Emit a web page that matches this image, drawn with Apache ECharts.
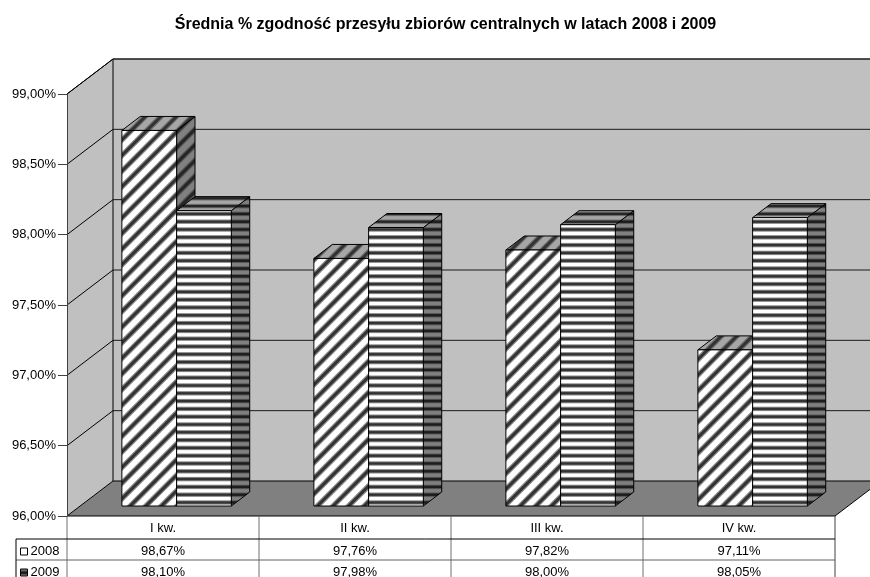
<!DOCTYPE html>
<html><head><meta charset="utf-8">
<style>html,body{margin:0;padding:0;background:#fff;overflow:hidden}#c{width:870px;height:577px}</style>
<script src="https://cdn.jsdelivr.net/npm/echarts@6/dist/echarts.min.js"></script>
</head><body><div id="c"></div>
<script>
const chartTitle = 'Średnia % zgodność przesyłu zbiorów centralnych w latach 2008 i 2009';
const categories = ['I kw.', 'II kw.', 'III kw.', 'IV kw.'];
const seriesNames = ['2008', '2009'];
const values2008 = [98.67, 97.76, 97.82, 97.11];
const values2009 = [98.10, 97.98, 98.00, 98.05];
const valueTicks = [96, 96.5, 97, 97.5, 98, 98.5, 99];

const FONT = '"Liberation Sans", Arial, sans-serif';
const WALL_DX = 46, WALL_DY = -35;
const BAR_D0 = 0.285, BAR_D1 = 0.685, BAR_FRACTION = 0.285, BAR_NUDGE = 0.5;
const fmt = v => v.toFixed(2).replace('.', ',') + '%';

function diagPattern(light, mid, dark) {
  const s = 78, p = 15.6, ph = 12.2, cv = document.createElement('canvas');
  cv.width = s; cv.height = s;
  const g = cv.getContext('2d');
  g.fillStyle = light; g.fillRect(0, 0, s, s);
  [[mid, 5.4], [dark, 3]].forEach(([col, lw]) => {
    g.strokeStyle = col; g.lineWidth = lw;
    for (let k = -8; k <= 18; k++) {
      const c = k * p + ph;
      g.beginPath(); g.moveTo(c + 20, -20); g.lineTo(c - s - 20, s + 20); g.stroke();
    }
  });
  return { image: cv, repeat: 'repeat' };
}
function horizPattern(light, mid, dark) {
  const h = 39, p = 7.8, cv = document.createElement('canvas');
  cv.width = 4; cv.height = h;
  const g = cv.getContext('2d');
  g.fillStyle = light; g.fillRect(0, 0, 4, h);
  for (let k = 0; k < 5; k++) {
    g.fillStyle = mid; g.fillRect(0, k * p + 1.1, 4, 4.4);
    g.fillStyle = dark; g.fillRect(0, k * p + 2.1, 4, 2.4);
  }
  return { image: cv, repeat: 'repeat' };
}
const patterns = [
  { front: diagPattern('#ffffff', '#8c8c8c', '#333333'), side: diagPattern('#808080', '#555555', '#262626'), top: diagPattern('#a6a6a6', '#6e6e6e', '#333333') },
  { front: horizPattern('#ffffff', '#8c8c8c', '#333333'), side: horizPattern('#808080', '#555555', '#1c1c1c'), top: horizPattern('#a6a6a6', '#707070', '#262626') }
];

function poly(points, fill, stroke, lw) {
  return { type: 'polygon', shape: { points }, style: { fill, stroke: stroke || 'none', lineWidth: lw || 1 } };
}
function line(a, b, stroke, lw) {
  return { type: 'line', shape: { x1: a[0], y1: a[1], x2: b[0], y2: b[1] }, style: { stroke, lineWidth: lw || 1, fill: 'none' } };
}
const back = (p, d) => [p[0] + WALL_DX * (d === undefined ? 1 : d), p[1] + WALL_DY * (d === undefined ? 1 : d)];

function renderWalls(params, api) {
  const cs = params.coordSys;
  const yb = api.coord([0, valueTicks[0]])[1], yt = api.coord([0, valueTicks[valueTicks.length - 1]])[1];
  const L = cs.x, R = cs.x + cs.width;
  const fl = [L, yb], fr = [R, yb], tl = [L, yt];
  const children = [
    poly([tl, back(tl), back(fl), fl], '#c0c0c0'),
    poly([back(tl), back([R, yt]), back(fr), back(fl)], '#c0c0c0'),
    poly([fl, fr, back(fr), back(fl)], '#808080', '#000', 1),
    line(back(tl), back(fl), '#000', 1),
    line(back(tl), back([R, yt]), '#1a1a1a', 1.2),
    line(tl, back(tl), '#000', 1)
  ];
  return { type: 'group', children };
}
function renderGrid(params, api) {
  const cs = params.coordSys;
  const y = api.coord([0, api.value(0)])[1];
  const a = [cs.x, y], b = back(a);
  return { type: 'group', children: [line(a, b, '#000', 1), line(b, [cs.x + cs.width + WALL_DX, b[1]], '#1a1a1a', 1)] };
}
function barRenderer(idx) {
  return function (params, api) {
    const c = api.value(0), v = api.value(1);
    const w = api.size([1, 0])[0] * BAR_FRACTION;
    const topP = api.coord([c, v]), botP = api.coord([c, valueTicks[0]]);
    const x0 = topP[0] - w + idx * w + BAR_NUDGE, x1 = x0 + w;
    const ft0 = back([x0, topP[1]], BAR_D0), ft1 = back([x1, topP[1]], BAR_D0);
    const fb0 = back([x0, botP[1]], BAR_D0), fb1 = back([x1, botP[1]], BAR_D0);
    const bt0 = back([x0, topP[1]], BAR_D1), bt1 = back([x1, topP[1]], BAR_D1);
    const bb1 = back([x1, botP[1]], BAR_D1);
    const pat = patterns[idx];
    return { type: 'group', children: [
      poly([ft1, bt1, bb1, fb1], pat.side, '#000', 1),
      poly([ft0, ft1, bt1, bt0], pat.top, '#000', 1),
      poly([ft0, ft1, fb1, fb0], pat.front, '#000', 1)
    ] };
  };
}
const ROW_Y = [0, 23, 44, 65];
function tableText(text, x, y) {
  return { type: 'text', style: { text, x, y, textAlign: 'center', textVerticalAlign: 'middle', font: '13px ' + FONT, fill: '#000' } };
}
function renderTable(params, api) {
  const cs = params.coordSys;
  const y0 = cs.y + cs.height, L = cs.x, R = cs.x + cs.width, K = 16;
  const children = [];
  categories.concat(['']).forEach((_, i) => {
    const x = L + cs.width * i / categories.length;
    children.push(line([x, y0], [x, y0 + ROW_Y[3]], i === categories.length ? '#404040' : '#707070', 1));
  });
  children.push(line([K, y0 + ROW_Y[1]], [R, y0 + ROW_Y[1]], '#000', 1));
  children.push(line([K, y0 + ROW_Y[2]], [R, y0 + ROW_Y[2]], '#606060', 1));
  children.push(line([K, y0 + ROW_Y[1]], [K, y0 + ROW_Y[3]], '#000', 1));
  seriesNames.forEach((name, s) => {
    const cy = y0 + (ROW_Y[s + 1] + ROW_Y[s + 2]) / 2 + 2;
    const sy = y0 + ROW_Y[s + 1] + 9;
    children.push({ type: 'rect', shape: { x: 20.5, y: sy, width: 7, height: 7 }, style: { fill: s ? patterns[1].side : '#fff', stroke: '#000', lineWidth: 1 } });
    children.push({ type: 'text', style: { text: name, x: 30.5, y: cy, textAlign: 'left', textVerticalAlign: 'middle', font: '13px ' + FONT, fill: '#000' } });
    [values2008, values2009][s].forEach((v, i) => {
      children.push(tableText(fmt(v), api.coord([i, v])[0], cy));
    });
  });
  return { type: 'group', children };
}

const chart = echarts.init(document.getElementById('c'), null, { renderer: 'canvas' });
chart.setOption({
  animation: false,
  backgroundColor: '#fff',
  title: { text: chartTitle, left: 440.5, top: 12, textAlign: 'center',
    textStyle: { fontFamily: FONT, fontSize: 16, fontWeight: 'bold', color: '#000' } },
  grid: { left: 67, right: 35, top: 94, bottom: 61, containLabel: false },
  xAxis: { type: 'category', data: categories, boundaryGap: true,
    axisLine: { show: false }, axisTick: { show: false }, splitLine: { show: false },
    axisLabel: { interval: 0, margin: 6, fontFamily: FONT, fontSize: 13, color: '#000' } },
  yAxis: { type: 'value', min: 96, max: 99, interval: 0.5, z: 5,
    axisLine: { show: true, lineStyle: { color: '#404040', width: 1 } },
    axisTick: { show: true, length: 9, lineStyle: { color: '#404040', width: 1 } },
    splitLine: { show: false },
    axisLabel: { margin: 11, formatter: fmt, fontFamily: FONT, fontSize: 13, color: '#000' } },
  series: [
    { type: 'custom', name: 'walls', silent: true, z: 1, data: [[0]], renderItem: renderWalls },
    { type: 'custom', name: 'grid', silent: true, z: 1.5, data: valueTicks.slice(1).map(v => [v]), renderItem: renderGrid },
    { type: 'custom', name: '2008', silent: true, z: 2, data: values2008.map((v, i) => [i, v]), encode: { x: 0, y: 1 }, renderItem: barRenderer(0) },
    { type: 'custom', name: '2009', silent: true, z: 3, data: values2009.map((v, i) => [i, v]), encode: { x: 0, y: 1 }, renderItem: barRenderer(1) },
    { type: 'custom', name: 'table', silent: true, z: 4, data: [[0]], renderItem: renderTable }
  ]
});
</script></body></html>
